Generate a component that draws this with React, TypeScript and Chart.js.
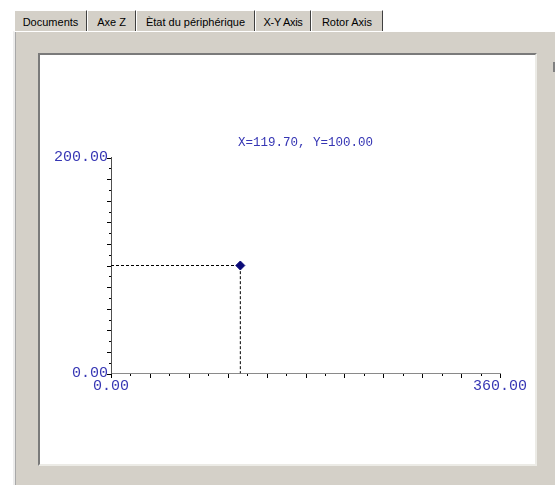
import React, { useEffect, useRef } from 'react';
import { Chart, registerables } from 'chart.js';

Chart.register(...registerables);

// ---- data ----
const X_RANGE = [0, 360];
const Y_RANGE = [0, 200];
const X_MINOR_STEP = 18;
const X_MAJOR_STEP = 36;
const Y_MINOR_STEP = 10;
const Y_MAJOR_STEP = 20;
const X_TICK_LABELS = ['0.00', '360.00'];
const Y_TICK_LABELS = ['0.00', '200.00'];
const CURSOR_X = [119.7];
const CURSOR_Y = [100];
const TABS = ['Documents', 'Axe Z', 'Ètat du périphérique', 'X-Y Axis', 'Rotor Axis'];
const TAB_WIDTHS = [73, 49, 119, 56, 72];
const SELECTED_TAB = 'X-Y Axis';

const TEXT_BLUE = '#3636b4';
const MONO = '"Liberation Mono", "DejaVu Sans Mono", monospace';

const tickMarks = {
  id: 'tickMarks',
  afterDraw(chart: any) {
    const { ctx, chartArea: a, scales } = chart;
    const x = scales.x;
    const y = scales.y;
    const bottom = Math.round(a.bottom);
    const left = Math.round(a.left);
    ctx.save();
    ctx.strokeStyle = '#000000';
    ctx.lineWidth = 1;
    ctx.beginPath();
    x.ticks.forEach((t: any) => {
      const px = Math.round(x.getPixelForValue(t.value)) + 0.5;
      const len = t.value % X_MAJOR_STEP === 0 ? 4 : 2;
      ctx.moveTo(px, bottom);
      ctx.lineTo(px, bottom + len);
    });
    y.ticks.forEach((t: any) => {
      const py = Math.round(y.getPixelForValue(t.value)) + 0.5;
      const len = t.value % Y_MAJOR_STEP === 0 ? 4 : 2;
      ctx.moveTo(left, py);
      ctx.lineTo(left - len, py);
    });
    ctx.stroke();
    ctx.restore();
  },
};

const readout = {
  id: 'readout',
  afterDraw(chart: any) {
    const { ctx, chartArea: a } = chart;
    ctx.save();
    ctx.font = '12.5px ' + MONO;
    ctx.fillStyle = TEXT_BLUE;
    ctx.textAlign = 'center';
    ctx.textBaseline = 'middle';
    ctx.fillText(
      `X=${CURSOR_X[0].toFixed(2)}, Y=${CURSOR_Y[0].toFixed(2)}`,
      (a.left + a.right) / 2,
      a.top - 15
    );
    ctx.restore();
  },
};

function XYChart() {
  const ref = useRef<HTMLCanvasElement | null>(null);
  useEffect(() => {
    if (!ref.current) return;
    const guide = [
      { x: X_RANGE[0], y: CURSOR_Y[0] },
      { x: CURSOR_X[0], y: CURSOR_Y[0] },
      { x: CURSOR_X[0], y: Y_RANGE[0] },
    ];
    const point = CURSOR_X.map((v, i) => ({ x: v, y: CURSOR_Y[i] }));
    const chart = new Chart(ref.current, {
      type: 'scatter',
      data: {
        datasets: [
          {
            data: point,
            pointStyle: 'rectRot',
            pointRadius: 4.5,
            pointBorderWidth: 1,
            backgroundColor: '#0a0a78',
            borderColor: '#0a0a78',
          },
          {
            data: guide,
            showLine: true,
            borderColor: '#000000',
            borderWidth: 1,
            borderDash: [3, 2],
            pointRadius: 0,
            fill: false,
          },
        ],
      },
      options: {
        animation: false,
        responsive: false,
        devicePixelRatio: 1,
        layout: { padding: { top: 102.5, right: 35, left: 0, bottom: 0 } },
        plugins: { legend: { display: false }, tooltip: { enabled: false }, title: { display: false } },
        scales: {
          x: {
            type: 'linear',
            min: X_RANGE[0],
            max: X_RANGE[1],
            grid: { display: false, drawTicks: false },
            border: { display: true, color: '#8a8a8a', width: 1 },
            ticks: {
              stepSize: X_MINOR_STEP,
              autoSkip: false,
              maxRotation: 0,
              padding: 4,
              color: TEXT_BLUE,
              font: { family: MONO, size: 15 },
              callback: (v: any) =>
                v === X_RANGE[0] ? X_TICK_LABELS[0] : v === X_RANGE[1] ? X_TICK_LABELS[1] : '',
            },
            afterFit: (s: any) => {
              s.height = 90.5;
            },
          },
          y: {
            type: 'linear',
            min: Y_RANGE[0],
            max: Y_RANGE[1],
            grid: { display: false, drawTicks: false },
            border: { display: true, color: '#505050', width: 1 },
            ticks: {
              stepSize: Y_MINOR_STEP,
              autoSkip: false,
              padding: 3,
              color: TEXT_BLUE,
              font: { family: MONO, size: 15 },
              callback: (v: any) =>
                v === Y_RANGE[0] ? Y_TICK_LABELS[0] : v === Y_RANGE[1] ? Y_TICK_LABELS[1] : '',
            },
            afterFit: (s: any) => {
              s.width = 71;
            },
          },
        },
      },
      plugins: [tickMarks, readout],
    } as any);
    return () => chart.destroy();
  }, []);
  return <canvas ref={ref} width={495} height={409} style={{ display: 'block', width: 495, height: 409 }} />;
}

export default function App() {
  let left = 14;
  const tabEls = TABS.map((t, i) => {
    const w = TAB_WIDTHS[i];
    const el = (
      <div
        key={t}
        style={{
          position: 'absolute',
          left,
          top: 10,
          width: w,
          height: 21,
          boxSizing: 'border-box',
          background: '#d4d0c8',
          borderTop: '1px solid #ffffff',
          borderLeft: '1px solid #ffffff',
          borderRight: '1px solid #404040',
          fontFamily: '"Liberation Sans", Arial, sans-serif',
          fontSize: 11,
          lineHeight: '22px',
          textAlign: 'center',
          color: '#000',
          whiteSpace: 'nowrap',
          letterSpacing: t === SELECTED_TAB ? '-0.3px' : 0,
        }}
      >
        {t}
      </div>
    );
    left += w;
    return el;
  });
  return (
    <div
      style={{
        position: 'fixed',
        left: 0,
        top: 0,
        width: 555,
        height: 485,
        background: '#ffffff',
        overflow: 'hidden',
      }}
    >
      <div
        style={{
          position: 'absolute',
          left: 13,
          top: 31,
          width: 560,
          height: 460,
          boxSizing: 'border-box',
          background: '#d4d0c8',
          borderLeft: '2px solid #ececec',
          borderTop: '1px solid #ffffff',
          boxShadow: 'inset 1px 0 0 #a8a8a8',
        }}
      />
      {tabEls}
      <div
        style={{
          position: 'absolute',
          left: 38,
          top: 53,
          width: 499,
          height: 413,
          boxSizing: 'border-box',
          background: '#ffffff',
          borderTop: '2px solid #7a7a7a',
          borderLeft: '2px solid #7a7a7a',
          borderRight: '2px solid #ecebe6',
          borderBottom: '2px solid #ecebe6',
        }}
      >
        <XYChart />
      </div>
      <div style={{ position: 'absolute', left: 553, top: 62, width: 2, height: 10, background: '#808080' }} />
    </div>
  );
}
